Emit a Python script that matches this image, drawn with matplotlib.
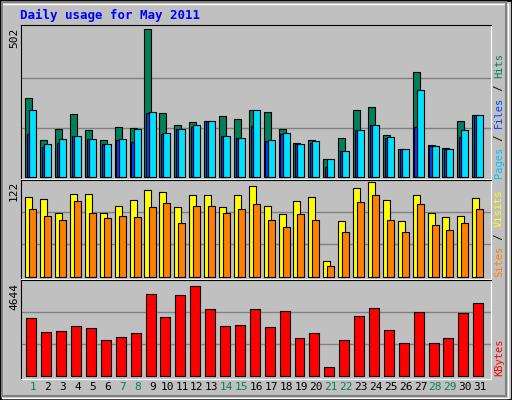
import matplotlib.pyplot as plt
import numpy as np

days = np.arange(1, 32)
hits = [267, 124, 161, 212, 158, 124, 168, 165, 502, 216, 175, 185, 189, 206, 195, 226,
        219, 161, 114, 124, 59, 131, 226, 236, 141, 93, 355, 107, 97, 189, 209]
files = [226, 110, 127, 137, 127, 110, 127, 161, 219, 148, 161, 175, 189, 137, 131, 226,
         124, 148, 110, 120, 59, 86, 158, 175, 134, 93, 294, 103, 93, 158, 209]
pages = [144, 100, 114, 137, 127, 110, 124, 117, 216, 144, 161, 168, 189, 137, 131, 171,
         120, 144, 110, 114, 32, 86, 158, 175, 131, 93, 168, 103, 93, 134, 209]
visits = [101, 98, 80, 104, 104, 80, 89, 97, 110, 107, 88, 103, 103, 88, 103, 115,
          89, 79, 95, 101, 20, 70, 112, 119, 97, 70, 103, 80, 75, 77, 99]
sites = [86, 76, 72, 95, 81, 74, 76, 75, 88, 93, 68, 89, 89, 81, 86, 92,
         72, 63, 79, 72, 13, 56, 94, 103, 72, 56, 92, 65, 59, 68, 86]
kbytes = [2821, 2108, 2156, 2393, 2298, 1728, 1870, 2061, 3963, 2869, 3915, 4343, 3249, 2393,
          2441, 3249, 2346, 3154, 1823, 2061, 444, 1728, 2916, 3297, 2203, 1585, 3107, 1585,
          1823, 3059, 3535]
weekend = [1, 7, 8, 14, 15, 21, 22, 28, 29]

W, H = 512, 400
BG = '#C0C0C0'
GREEN = '#00805C'
mono = 'DejaVu Sans Mono'

fig = plt.figure(figsize=(W / 100, H / 100), dpi=100)
fig.patch.set_facecolor(BG)
# outer 3d border
fig.add_artist(plt.Rectangle((0, 0), 1, 1, transform=fig.transFigure, fill=False,
                             edgecolor='black', lw=2))
fig.add_artist(plt.Rectangle((2 / W, 2 / H), 1 - 6 / W, 1 - 6 / H, transform=fig.transFigure,
                             fill=False, edgecolor='white', lw=1))
fig.add_artist(plt.Rectangle((2 / W, 4 / H), 1 - 8 / W, 1 - 6 / H, transform=fig.transFigure,
                             fill=False, edgecolor='#808080', lw=1.5))


def panel(top, bottom):
    ax = fig.add_axes([21 / W, 1 - bottom / H, 470 / W, (bottom - top) / H])
    ax.set_facecolor(BG)
    ax.set_xlim(0.19, 31.74)
    ax.set_xticks([])
    ax.set_yticks([])
    for s in ['left', 'top']:
        ax.spines[s].set_color('black')
    for s in ['right', 'bottom']:
        ax.spines[s].set_color('white')
    return ax


kw = dict(edgecolor='black', linewidth=0.8, align='edge')

ax1 = panel(25, 179)
ax1.set_ylim(-8, 516)
for g in [167, 335]:
    ax1.axhline(g, color='#808080', lw=1, zorder=0)
ax1.bar(days - 0.52, hits, width=0.47, color=GREEN, **kw)
ax1.bar(days - 0.25, files, width=0.47, color='#00E0FF', **kw)
ax1.bar(days - 0.40, pages, width=0.15, color='#0040FF', **kw)

ax2 = panel(180, 279)
ax2.set_ylim(-2.8, 122)
for g in [40.7, 81.3]:
    ax2.axhline(g, color='#808080', lw=1, zorder=0)
ax2.bar(days - 0.52, visits, width=0.47, color='#FFFF00', **kw)
ax2.bar(days - 0.25, sites, width=0.47, color='#FF8000', **kw)

ax3 = panel(280, 379)
ax3.set_ylim(-156, 4644)
for g in [1548, 3096]:
    ax3.axhline(g, color='#808080', lw=1, zorder=0)
ax3.bar(days - 0.45, kbytes, width=0.67, color='#FF0000', **kw)

for d in days:
    ax3.text(d, -0.03, str(d), transform=ax3.get_xaxis_transform(), ha='center', va='top',
             fontsize=8, family=mono, color=GREEN if d in weekend else 'black')

fig.text(20 / W, 1 - 15 / H, 'Daily usage for May 2011', color='#0000FF', fontsize=9,
         family=mono, fontweight='bold', va='center')

for lbl, y in [('502', 28), ('122', 181), ('4644', 283)]:
    fig.text(9 / W, 1 - y / H, lbl, rotation=90, ha='left', va='top', fontsize=8, family=mono)

renderer = fig.canvas.get_renderer()


def side(parts, ybot):
    # stack rotated pieces upward, measuring each one
    y = H - ybot
    for txt, col in parts:
        t = fig.text(494 / W, y / H, txt, rotation=90, ha='left', va='bottom',
                     fontsize=7.5, family=mono, color=col)
        ext = t.get_window_extent(renderer)
        y += ext.height


side([('Pages', '#00C0FF'), (' / ', 'black'), ('Files', '#0040FF'), (' / ', 'black'),
      ('Hits', GREEN)], 178)
side([('Sites', '#FF8000'), (' / ', 'black'), ('Visits', '#FFFF00')], 277)
side([('KBytes', '#FF0000')], 376)

fig.savefig('out.png', dpi=100, facecolor=BG)
